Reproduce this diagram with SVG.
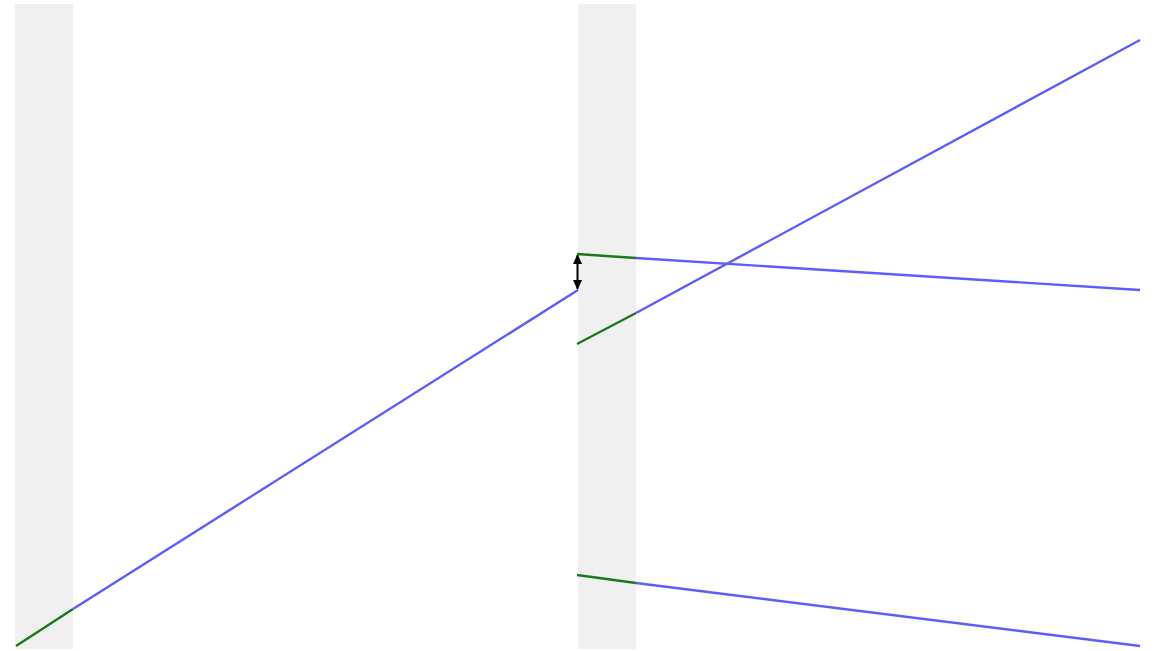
<svg xmlns="http://www.w3.org/2000/svg" width="1154" height="651" viewBox="0 0 1154 651">
<defs>
<style>
.band{fill:#f0f0f0}
.g{stroke:#1a7a1a;stroke-width:2.4;fill:none}
.b{stroke:#5c5cff;stroke-width:2.4;fill:none}
.a{stroke:#000;stroke-width:2;fill:none}
</style>
<marker id="ah" viewBox="0 0 10 10" refX="9" refY="5" markerWidth="5" markerHeight="4.5" orient="auto-start-reverse" preserveAspectRatio="none">
<path d="M0,0 L10,5 L0,10 z" fill="#000"/>
</marker>
</defs>
<rect width="1154" height="651" fill="#fff"/>
<g id="band-left"><rect class="band" x="15" y="4" width="58" height="645"/></g>
<g id="band-mid"><rect class="band" x="578" y="4" width="58" height="645"/></g>
<g id="connectors">
<line class="g" x1="16" y1="646" x2="73" y2="609"/>
<line class="b" x1="73" y1="609" x2="578" y2="290"/>
<line class="g" x1="577" y1="254" x2="636" y2="258"/>
<line class="b" x1="636" y1="258" x2="1140" y2="290"/>
<line class="g" x1="577" y1="344" x2="636" y2="313"/>
<line class="b" x1="636" y1="313" x2="1140" y2="40"/>
<line class="g" x1="577" y1="575" x2="636" y2="583"/>
<line class="b" x1="636" y1="583" x2="1140" y2="646"/>
<line class="a" x1="577.5" y1="255" x2="577.5" y2="289" marker-start="url(#ah)" marker-end="url(#ah)"/>
</g>
</svg>
